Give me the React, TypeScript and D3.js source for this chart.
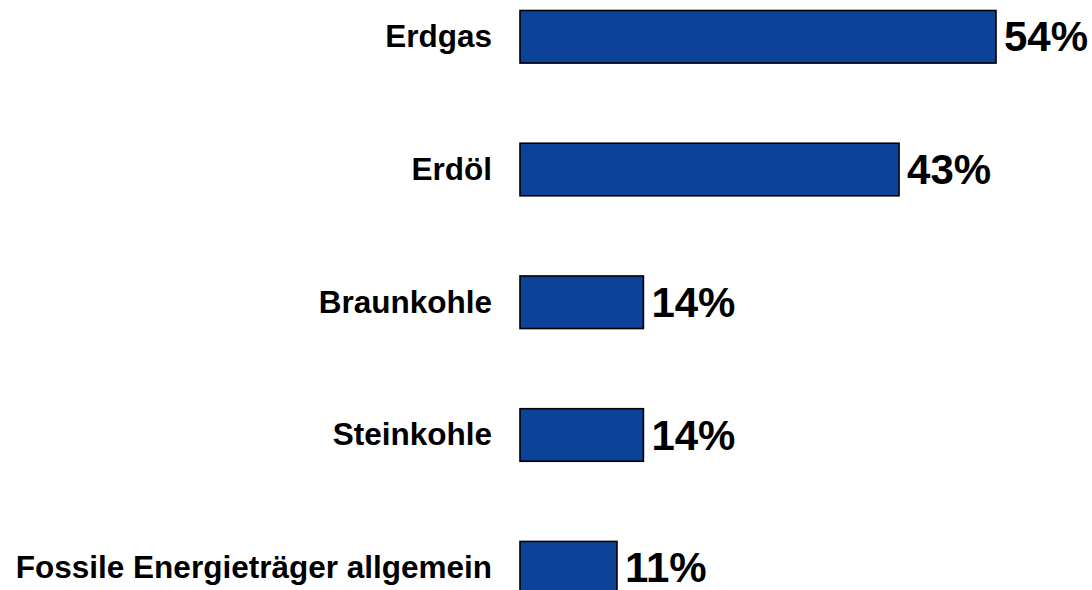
import React from "react";
import * as d3 from "d3";

const categories = ["Erdgas", "Erdöl", "Braunkohle", "Steinkohle", "Fossile Energieträger allgemein"];
const values = [54, 43, 14, 14, 11];

const W = 1092;
const H = 590;
const FONT = "'Liberation Sans', Arial, Helvetica, sans-serif";

export default function App() {
  const x = d3.scaleLinear().domain([0, 54]).range([520, 996]);
  const y = d3
    .scaleBand<string>()
    .domain(categories)
    .range([10.5, 594])
    .paddingInner(0.604)
    .paddingOuter(0);
  const bw = y.bandwidth();

  return (
    <svg
      width={W}
      height={H}
      viewBox={`0 0 ${W} ${H}`}
      style={{ position: "absolute", left: 0, top: 0, background: "#fff" }}
    >
      {categories.map((c, i) => {
        const y0 = y(c)!;
        const cy = y0 + bw / 2;
        return (
          <g key={c}>
            <rect
              x={x(0)}
              y={y0}
              width={x(values[i]) - x(0)}
              height={bw}
              fill="#0D4299"
              stroke="#000"
              strokeWidth={1.6}
            />
            <text
              x={492}
              y={cy}
              dy="0.33em"
              textAnchor="end"
              fontFamily={FONT}
              fontWeight="bold"
              fontSize={31.5}
              fill="#000"
            >
              {c}
            </text>
            <text
              x={x(values[i]) + 8}
              y={cy}
              dy="0.35em"
              textAnchor="start"
              fontFamily={FONT}
              fontWeight="bold"
              fontSize={42}
              fill="#000"
            >
              {values[i] + "%"}
            </text>
          </g>
        );
      })}
    </svg>
  );
}
